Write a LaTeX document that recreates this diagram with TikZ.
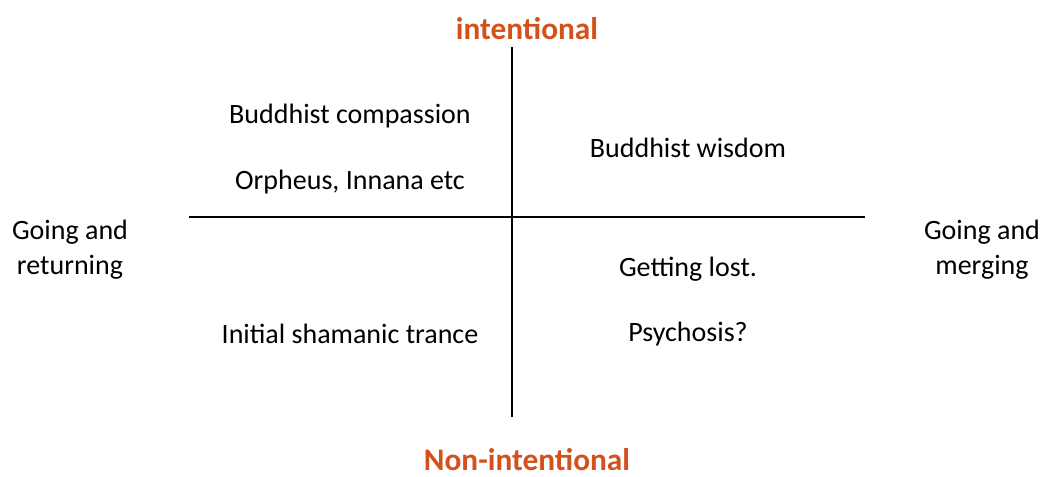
\documentclass[tikz,border=0pt]{standalone}
\usepackage{fontspec}
\setmainfont{Carlito}
\definecolor{axisred}{RGB}{212,80,28}
\tikzset{
  lbl/.style={inner sep=0.75pt, font=\fontsize{21}{26.25}\selectfont, align=center},
  axislbl/.style={lbl, text=axisred, font=\fontsize{23.5}{28}\selectfont\bfseries},
  axisline/.style={line width=1.5pt}
}
\begin{document}
\begin{tikzpicture}[x=0.75pt,y=0.75pt,yscale=-1,xscale=1]
\useasboundingbox (0,0) rectangle (1042,477);

%Axes
\coordinate (top) at (512,47);
\coordinate (bottom) at (512,417);
\coordinate (left) at (189,217);
\coordinate (right) at (865,217);
\draw [axisline] (top) -- (bottom);
\draw [axisline] (left) -- (right);

% Axis labels
\node (intent) at (527,29) [axislbl] {intentional};
\node (nonintent) at (527,460) [axislbl] {Non-intentional};
\node (returning) at (70,249.5) [lbl] {Going and\\returning};
\node (merging) at (982,249.5) [lbl] {Going and\\merging};

% Quadrant texts
\node (compassion) at (350,116) [lbl] {Buddhist compassion};
\node (orpheus) at (350,182) [lbl] {Orpheus, Innana etc};
\node (wisdom) at (688,148) [lbl] {Buddhist wisdom};
\node (lost) at (688,269) [lbl] {Getting lost.};
\node (psychosis) at (688,334) [lbl] {Psychosis?};
\node (trance) at (350,334) [lbl] {Initial shamanic trance};

\end{tikzpicture}
\end{document}
